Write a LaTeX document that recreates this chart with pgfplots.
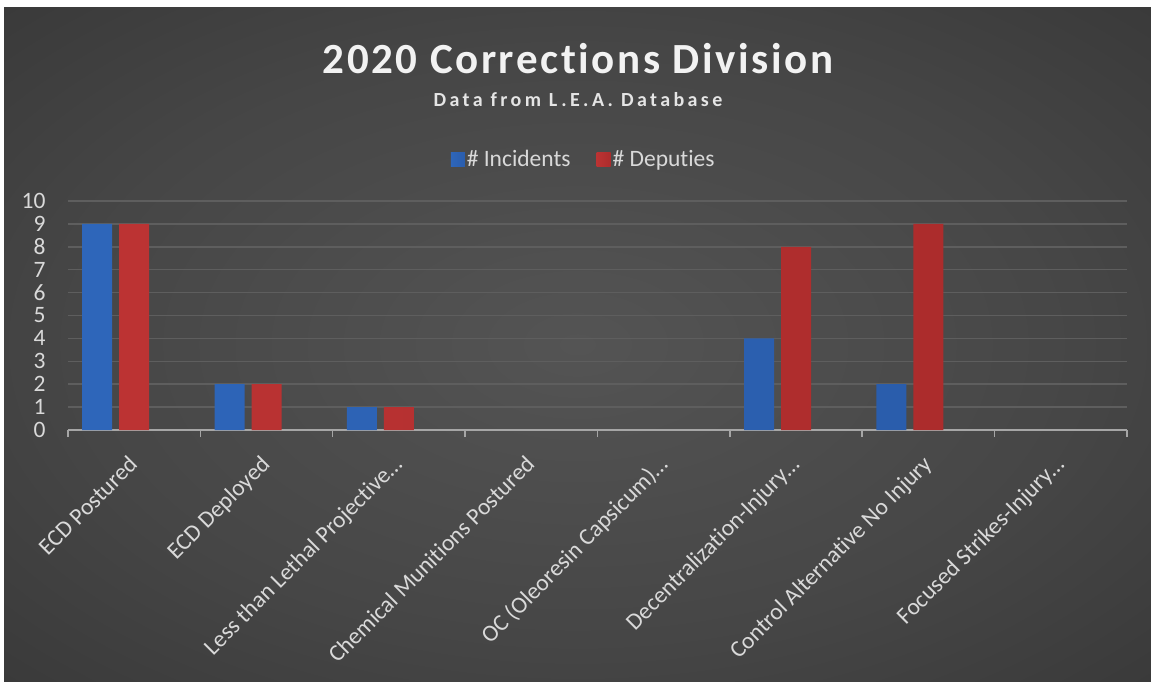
\documentclass[border=0pt]{standalone}
\usepackage{pgfplots}
\pgfplotsset{compat=1.18}
\usepackage{fontspec}
\setmainfont{Carlito}[Ligatures=NoCommon]
\newfontfamily\titlefont[LetterSpace=6,Ligatures=NoCommon]{Carlito}
\newfontfamily\subfont[LetterSpace=17,Ligatures=NoCommon]{Carlito}
\definecolor{bluedark}{HTML}{2E66BA}
\definecolor{bluemid}{HTML}{3E84DE}
\definecolor{bluedark2}{HTML}{2A5DAC}
\definecolor{reddark}{HTML}{BC3333}
\definecolor{redmid}{HTML}{E04242}
\definecolor{reddark2}{HTML}{AC2C2C}
\definecolor{gridc}{HTML}{5E5E5E}
\definecolor{labc}{HTML}{D9D9D9}
\definecolor{bgin}{HTML}{545454}
\definecolor{bgmid}{HTML}{464646}
\definecolor{bgout}{HTML}{2D2D2D}
\definecolor{bgcorner}{HTML}{222222}
\pgfdeclareradialshading{bgshade}{\pgfpoint{0bp}{0bp}}{color(0bp)=(bgin); color(22bp)=(bgmid); color(50bp)=(bgout); color(71bp)=(bgcorner)}
\begin{document}
\begin{tikzpicture}
\fill[white] (0pt,0pt) rectangle (1151pt,681pt);
\path[shading=bgshade] (4pt,0pt) rectangle (1151pt,673pt);
\node[anchor=base, text=white!95!black, inner sep=0pt] at (578pt,607.4pt) {\titlefont\fontsize{43}{50}\selectfont\bfseries 2020 Corrections Division};
\node[anchor=base, text=white!90!black, inner sep=0pt] at (578pt,574pt) {\subfont\fontsize{20}{24}\selectfont\bfseries Data from L.E.A. Database};
\begin{axis}[
  at={(68pt,251pt)}, anchor=south west,
  scale only axis, width=1059pt, height=229pt,
  xmin=0, xmax=8, ymin=0, ymax=10,
  ytick={0,1,...,10},
  xtick={0.5,1.5,...,7.5},
  xticklabels={ECD Postured, ECD Deployed, Less than Lethal Projective\dots, Chemical Munitions Postured, OC (Oleoresin Capsicum)\dots, Decentralization-Injury\dots, Control Alternative No Injury, Focused Strikes-Injury\dots},
  minor xtick={0,1,...,8},
  major tick length=0pt,
  minor tick length=7pt,
  tick align=outside,
  axis x line*=bottom,
  axis y line*=left,
  y axis line style={draw=none},
  x axis line style={draw=gray!70, line width=1.5pt},
  minor tick style={draw=gray!70, line width=1.5pt},
  major tick style={draw=none},
  ymajorgrids,
  grid style={draw=gridc, line width=1.5pt},
  /pgf/number format/assume math mode=true,
  tick label style={text=labc, font=\fontsize{23.5}{27}\selectfont},
  yticklabel style={xshift=-19pt},
  xticklabel style={xshift=-7pt, yshift=-24pt, rotate=45, anchor=north east, inner sep=0pt},
  ybar, bar width=30pt,
  unbounded coords=discard,
  y filter/.expression={y<=0 ? nan : y},
  legend style={at={(axis description cs:0.487,1.183)}, anchor=center, draw=none, fill=none, text=labc, font=\fontsize{23.5}{28}\selectfont, legend columns=-1, /tikz/every even column/.append style={column sep=24pt}},
  legend image code/.code={\path[#1, draw=none] (0pt,-7pt) rectangle (14pt,7pt);},
]
\addplot[bar shift=-37pt, left color=bluedark, middle color=bluemid, right color=bluedark2, draw=none]
  coordinates {(0.5,9) (1.5,2) (2.5,1) (3.5,0) (4.5,0) (5.5,4) (6.5,2) (7.5,0)};
\addplot[bar shift=0pt, left color=reddark, middle color=redmid, right color=reddark2, draw=none]
  coordinates {(0.5,9) (1.5,2) (2.5,1) (3.5,0) (4.5,0) (5.5,8) (6.5,9) (7.5,0)};
\legend{\# Incidents, \# Deputies}
\end{axis}
\pgfresetboundingbox
\useasboundingbox (0pt,0pt) rectangle (1151pt,681pt);
\end{tikzpicture}
\end{document}
